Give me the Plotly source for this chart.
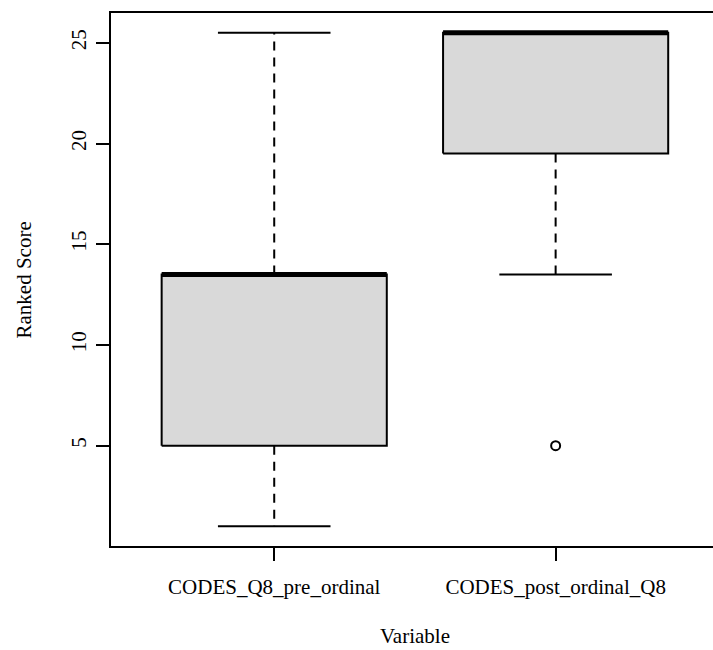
import plotly.graph_objects as go

# Five-number summaries for each variable (R boxplot style)
categories = ["CODES_Q8_pre_ordinal", "CODES_post_ordinal_Q8"]
lower_whisker = [1, 13.5]
q1 = [5, 19.5]
median = [13.5, 25.5]
q3 = [13.5, 25.5]
upper_whisker = [25.5, 25.5]
outliers = [[], [5]]

y_ticks = [5, 10, 15, 20, 25]

positions = [i + 1 for i in range(len(categories))]
half_box = 0.4          # boxwex 0.8
half_cap = 0.2          # staplewex 0.5
FONT = "Liberation Serif, Times New Roman, serif"
FSIZE = 21

fig = go.Figure()

for pos, lo, a, m, b, hi, outs in zip(positions, lower_whisker, q1, median, q3,
                                       upper_whisker, outliers):
    # dashed whiskers, drawn outward from the box edges
    for start, end in ((b, hi), (a, lo)):
        fig.add_trace(go.Scatter(
            x=[pos, pos], y=[start, end], mode="lines",
            line=dict(color="black", width=2, dash="9px,7px"),
            hoverinfo="skip", showlegend=False))
    # staples
    for w in (lo, hi):
        fig.add_trace(go.Scatter(
            x=[pos - half_cap, pos + half_cap], y=[w, w], mode="lines",
            line=dict(color="black", width=2),
            hoverinfo="skip", showlegend=False))
    # box body
    fig.add_trace(go.Scatter(
        x=[pos - half_box, pos + half_box, pos + half_box, pos - half_box, pos - half_box],
        y=[a, a, b, b, a], mode="lines", fill="toself",
        fillcolor="#D9D9D9", line=dict(color="black", width=2),
        hoverinfo="skip", showlegend=False))
    # median
    fig.add_trace(go.Scatter(
        x=[pos - half_box, pos + half_box], y=[m, m], mode="lines",
        line=dict(color="black", width=5),
        hoverinfo="skip", showlegend=False))
    # outliers
    if outs:
        fig.add_trace(go.Scatter(
            x=[pos] * len(outs), y=outs, mode="markers",
            marker=dict(symbol="circle-open", size=9, color="black",
                        line=dict(width=2, color="black")),
            hoverinfo="skip", showlegend=False))

fig.add_annotation(text="Ranked Score", xref="paper", yref="paper",
                   x=(23 - 111) / 602, y=0.5, xanchor="center", yanchor="middle",
                   textangle=-90, showarrow=False,
                   font=dict(family=FONT, size=FSIZE, color="black"))
fig.add_annotation(text="Variable", xref="x", yref="paper",
                   x=1.5, y=-(636 - 546) / 533, xanchor="center", yanchor="middle",
                   showarrow=False,
                   font=dict(family=FONT, size=FSIZE, color="black"))

fig.update_layout(
    width=713, height=650,
    margin=dict(l=111, r=0, t=13, b=104),
    paper_bgcolor="white", plot_bgcolor="white",
    font=dict(family=FONT, size=FSIZE, color="black"),
    xaxis=dict(range=[0.42, 2.5592], tickmode="array", tickvals=positions,
               ticktext=categories, showgrid=False, zeroline=False,
               showline=True, linecolor="black", linewidth=2, mirror=True,
               ticks="outside", ticklen=13, tickwidth=2, tickcolor="black",
               ticklabelstandoff=8),
    yaxis=dict(range=[0.02, 26.48], tickmode="array", tickvals=y_ticks,
               showgrid=False, zeroline=False,
               showline=True, linecolor="black", linewidth=2,
               ticks="outside", ticklen=13, tickwidth=2, tickcolor="black",
               tickangle=-90, ticklabelstandoff=2),
)

fig.write_html("out.html")
